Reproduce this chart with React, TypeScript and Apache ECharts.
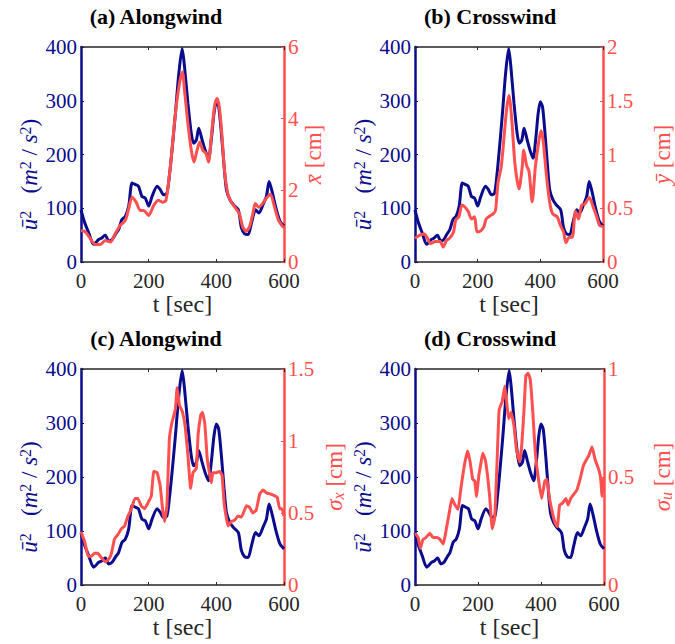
import React, { useEffect, useRef } from "react";
import * as echarts from "echarts";

// u^2 (m^2/s^2) – same in all four panels
const uSquared: [number, number][] = [
  [0, 97], [10, 75], [23, 54], [37, 33], [45, 37], [52, 42], [60, 44], [67, 48], [72, 50], [82, 39],
  [92, 42], [102, 52], [111, 60], [121, 79], [131, 85], [141, 104], [151, 147], [161, 144], [170, 141],
  [180, 122], [190, 119], [200, 104], [210, 122], [225, 141], [234, 135], [244, 125], [254, 128],
  [262, 165], [269, 208], [279, 276], [289, 350], [299, 397], [306, 363], [316, 295], [326, 239],
  [333, 221], [341, 227], [348, 249], [358, 227], [367, 208], [377, 193], [385, 227], [393, 276],
  [400, 298], [407, 289], [415, 239], [423, 178], [430, 134], [440, 116], [450, 107], [465, 97],
  [474, 64], [484, 52], [494, 51], [504, 73], [516, 97], [526, 91], [538, 107], [548, 122], [556, 150],
  [566, 128], [576, 101], [588, 76], [600, 67],
];

// mean alongwind displacement x̄ [cm]
const xMean: [number, number][] = [
  [0, 0.88], [13, 0.84], [28, 0.65], [42, 0.49], [57, 0.49], [72, 0.6], [87, 0.56], [101, 0.79],
  [116, 1.02], [131, 1.16], [141, 1.49], [151, 1.81], [163, 1.67], [175, 1.44], [185, 1.44], [200, 1.3],
  [215, 1.58], [229, 1.72], [241, 1.67], [251, 1.72], [264, 2.65], [279, 4.14], [291, 4.98], [300, 5.3],
  [306, 4.79], [316, 3.86], [326, 3.12], [334, 2.79], [343, 3.12], [351, 3.35], [360, 3.12], [370, 3.02],
  [377, 2.79], [385, 3.49], [395, 4.37], [402, 4.56], [409, 4.32], [417, 3.49], [424, 2.56], [434, 1.91],
  [444, 1.67], [458, 1.49], [468, 1.35], [478, 0.98], [488, 0.86], [498, 0.98], [508, 1.35], [515, 1.63],
  [525, 1.53], [537, 1.63], [547, 1.77], [560, 1.89], [572, 1.53], [584, 1.16], [597, 0.98], [600, 0.97],
];

// mean crosswind displacement ȳ [cm]
const yMean: [number, number][] = [
  [0, 0.22], [15, 0.25], [30, 0.26], [40, 0.22], [50, 0.17], [65, 0.19], [80, 0.19], [90, 0.14],
  [100, 0.2], [110, 0.22], [123, 0.28], [130, 0.39], [140, 0.42], [150, 0.53], [160, 0.51], [170, 0.47],
  [180, 0.4], [190, 0.42], [198, 0.28], [210, 0.29], [220, 0.33], [227, 0.4], [240, 0.43], [250, 0.45],
  [257, 0.48], [265, 0.74], [275, 0.88], [285, 1.19], [293, 1.44], [300, 1.55], [309, 1.32], [319, 0.91],
  [332, 0.68], [342, 0.88], [347, 1.04], [356, 0.9], [364, 0.84], [374, 0.56], [384, 0.88], [394, 1.1],
  [402, 1.22], [409, 1.13], [419, 0.82], [429, 0.57], [439, 0.45], [454, 0.42], [464, 0.34], [474, 0.28],
  [482, 0.18], [492, 0.23], [502, 0.23], [512, 0.47], [522, 0.4], [532, 0.53], [542, 0.54], [556, 0.6],
  [569, 0.51], [579, 0.43], [589, 0.34], [600, 0.33],
];

// alongwind std σx [cm]
const sigmaX: [number, number][] = [
  [0, 0.37], [11, 0.3], [21, 0.2], [31, 0.2], [40, 0.22], [50, 0.22], [60, 0.19], [72, 0.16], [82, 0.18],
  [90, 0.22], [99, 0.32], [109, 0.35], [119, 0.39], [129, 0.41], [139, 0.48], [149, 0.53], [159, 0.6],
  [168, 0.6], [178, 0.55], [188, 0.53], [198, 0.57], [208, 0.62], [215, 0.79], [225, 0.78], [234, 0.69],
  [241, 0.53], [247, 0.44], [254, 0.55], [261, 1.01], [269, 1.13], [279, 1.22], [284, 1.37], [291, 1.25],
  [300, 1.2], [308, 1.1], [316, 0.9], [324, 0.67], [331, 0.78], [341, 0.81], [346, 1.04], [354, 1.18],
  [359, 1.2], [366, 1.12], [373, 0.88], [385, 0.71], [390, 0.78], [400, 0.78], [410, 0.79], [417, 0.76],
  [423, 0.57], [430, 0.46], [435, 0.41], [444, 0.44], [454, 0.45], [464, 0.48], [474, 0.47], [489, 0.55],
  [498, 0.54], [508, 0.5], [518, 0.52], [528, 0.63], [538, 0.66], [548, 0.64], [562, 0.63], [572, 0.62],
  [580, 0.61], [587, 0.53], [594, 0.53], [600, 0.48],
];

// crosswind std σu [cm]
const sigmaU: [number, number][] = [
  [0, 0.24], [10, 0.22], [17, 0.17], [25, 0.21], [35, 0.22], [47, 0.24], [57, 0.22], [70, 0.22],
  [80, 0.21], [90, 0.19], [97, 0.24], [107, 0.32], [117, 0.4], [127, 0.37], [137, 0.35], [145, 0.44],
  [153, 0.52], [160, 0.58], [167, 0.62], [175, 0.57], [183, 0.49], [190, 0.48], [195, 0.41], [203, 0.51],
  [210, 0.57], [215, 0.61], [223, 0.58], [230, 0.51], [237, 0.41], [245, 0.26], [253, 0.31], [260, 0.55],
  [267, 0.81], [277, 0.85], [285, 0.92], [290, 0.86], [297, 0.77], [305, 0.8], [314, 0.74], [322, 0.63],
  [332, 0.57], [339, 0.65], [346, 0.81], [352, 0.97], [359, 0.98], [366, 0.95], [374, 0.8], [382, 0.61],
  [392, 0.49], [402, 0.4], [412, 0.48], [419, 0.49], [426, 0.41], [434, 0.35], [444, 0.29], [452, 0.27],
  [459, 0.37], [469, 0.38], [479, 0.4], [486, 0.37], [494, 0.4], [504, 0.42], [514, 0.44], [524, 0.49],
  [534, 0.55], [544, 0.58], [552, 0.6], [562, 0.64], [572, 0.58], [582, 0.54], [589, 0.5], [594, 0.41],
  [600, 0.5],
];

const panelTitles = ["(a) Alongwind", "(b) Crosswind", "(c) Alongwind", "(d) Crosswind"];
const rightMax = [6, 2, 1.5, 1];
const rightInterval = [2, 0.5, 0.5, 0.5];

const BLUE = "#0b0b8e";
const RED = "#ff4f4f";
const DARK = "#262626";
const FONT = "Liberation Serif";

const layout = [
  { grid: { left: 81, top: 47, width: 203, height: 215 }, titleX: 151, titleY: 0, rGap: 18 },
  { grid: { left: 415, top: 47, width: 200, height: 215 }, titleX: 485, titleY: 0, rGap: 48 },
  { grid: { left: 81, top: 369, width: 203, height: 216 }, titleX: 151, titleY: 322, rGap: 38 },
  { grid: { left: 415, top: 369, width: 200, height: 216 }, titleX: 485, titleY: 322, rGap: 46 },
];

const redSeries = [xMean, yMean, sigmaX, sigmaU];

function richFor(color: string) {
  return {
    i: { fontFamily: FONT, fontSize: 23, fontStyle: "italic", color },
    n: { fontFamily: FONT, fontSize: 23, color },
    p: { fontFamily: FONT, fontSize: 16, color, verticalAlign: "top", padding: [0, 0, 8, 0] },
    s: { fontFamily: FONT, fontSize: 16, fontStyle: "italic", color, verticalAlign: "bottom", padding: [8, 0, 0, 0] },
  };
}

const rightNames = [
  "{i|x\u0304}{n| [cm]}",
  "{i|\u0233}{n| [cm]}",
  "{i|σ}{s|x}{n| [cm]}",
  "{i|σ}{s|u}{n| [cm]}",
];
const leftName = "{i|ū}{p|2}{n|   (}{i|m}{p|2}{n| / }{i|s}{p|2}{n|)}";

export default function App() {
  const ref = useRef<HTMLDivElement>(null);
  useEffect(() => {
    if (!ref.current) return;
    const chart = echarts.init(ref.current, undefined, { renderer: "svg" });
    const grids: any[] = [];
    const xAxes: any[] = [];
    const yAxes: any[] = [];
    const series: any[] = [];
    const titles: any[] = [];
    layout.forEach((p, k) => {
      grids.push({ ...p.grid, containLabel: false });
      titles.push({
        text: panelTitles[k],
        left: p.titleX,
        top: p.titleY,
        textAlign: "center",
        textStyle: { fontFamily: FONT, fontWeight: "bold", fontSize: 22, color: "#000" },
      });
      xAxes.push({
        type: "value",
        gridIndex: k,
        position: "bottom",
        min: 0,
        max: 600,
        interval: 200,
        name: "t [sec]",
        nameLocation: "middle",
        nameGap: 28,
        nameTextStyle: { fontFamily: FONT, fontSize: 24, color: DARK },
        axisLine: { show: true, onZero: false, lineStyle: { color: DARK, width: 1.5 } },
        axisTick: { show: true, inside: true, length: 3, lineStyle: { color: DARK } },
        axisLabel: { fontFamily: FONT, fontSize: 21, color: DARK, margin: 11, lineHeight: 15 },
        splitLine: { show: false },
      });
      xAxes.push({
        type: "value",
        gridIndex: k,
        position: "top",
        min: 0,
        max: 600,
        interval: 200,
        axisLine: { show: true, onZero: false, lineStyle: { color: DARK, width: 1.5 } },
        axisTick: { show: true, inside: true, length: 3, lineStyle: { color: DARK } },
        axisLabel: { show: false },
        splitLine: { show: false },
      });
      yAxes.push({
        type: "value",
        gridIndex: k,
        position: "left",
        min: 0,
        max: 400,
        interval: 100,
        name: leftName,
        nameLocation: "middle",
        nameRotate: 90,
        nameGap: 40,
        nameTextStyle: { fontFamily: FONT, fontSize: 23, color: BLUE, rich: richFor(BLUE), padding: [0, 40, 0, 0] },
        axisLine: { show: true, onZero: false, lineStyle: { color: BLUE, width: 2.5 } },
        axisTick: { show: true, inside: true, length: 3, lineStyle: { color: BLUE } },
        axisLabel: { fontFamily: FONT, fontSize: 21, color: BLUE, margin: 4, lineHeight: 14 },
        splitLine: { show: false },
      });
      yAxes.push({
        type: "value",
        gridIndex: k,
        position: "right",
        min: 0,
        max: rightMax[k],
        interval: rightInterval[k],
        name: rightNames[k],
        nameLocation: "middle",
        nameRotate: 90,
        nameGap: p.rGap,
        nameTextStyle: { fontFamily: FONT, fontSize: 23, color: RED, rich: richFor(RED) },
        axisLine: { show: true, onZero: false, lineStyle: { color: RED, width: 2.5 } },
        axisTick: { show: true, inside: true, length: 3, lineStyle: { color: RED } },
        axisLabel: { fontFamily: FONT, fontSize: 21, color: RED, margin: 4, lineHeight: 14 },
        splitLine: { show: false },
      });
      series.push({
        type: "line",
        xAxisIndex: 2 * k,
        yAxisIndex: 2 * k,
        data: uSquared,
        showSymbol: false,
        smooth: 0.25,
        lineStyle: { color: BLUE, width: 3 },
        z: 2,
      });
      series.push({
        type: "line",
        xAxisIndex: 2 * k,
        yAxisIndex: 2 * k + 1,
        data: redSeries[k],
        showSymbol: false,
        smooth: k < 2 ? 0.25 : 0.1,
        lineStyle: { color: RED, width: 3 },
        z: 3,
      });
    });
    chart.setOption({
      animation: false,
      backgroundColor: "#ffffff",
      title: titles,
      grid: grids,
      xAxis: xAxes,
      yAxis: yAxes,
      series,
    });
    return () => chart.dispose();
  }, []);
  return (
    <div
      ref={ref}
      style={{ position: "fixed", left: 0, top: 0, width: 675, height: 644, overflow: "hidden", background: "#fff" }}
    />
  );
}
